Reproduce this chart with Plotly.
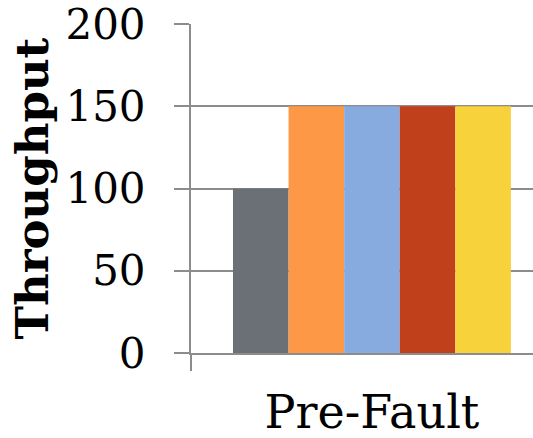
import plotly.graph_objects as go

categories = ["Pre-Fault"]
series_names = ["S1", "S2", "S3", "S4", "S5"]
series_values = [[100], [150], [150], [150], [150]]
series_colors = ["#6B6F76", "#FD9846", "#87AADF", "#C0401C", "#F7D23A"]
y_ticks = [0, 50, 100, 150, 200]

fig = go.Figure()
for name, vals, col in zip(series_names, series_values, series_colors):
    fig.add_trace(go.Bar(x=categories, y=vals, name=name, marker=dict(color=col, line=dict(width=0))))

grid = "#8C8C8C"
fig.update_layout(
    width=533, height=438,
    margin=dict(l=191, r=0, t=24, b=85),
    paper_bgcolor="white", plot_bgcolor="white",
    barmode="group", bargap=0.232, bargroupgap=0,
    showlegend=False,
    font=dict(family="DejaVu Serif", color="black"),
)
fig.update_yaxes(
    range=[0, 200], tickvals=y_ticks, ticktext=[str(v) for v in y_ticks],
    showgrid=True, gridcolor=grid, gridwidth=2,
    showline=True, linecolor=grid, linewidth=2,
    ticks="outside", ticklen=15, tickwidth=2, tickcolor=grid,
    tickfont=dict(size=42, family="DejaVu Serif"),
    ticklabelstandoff=20, ticklabeloverflow="allow",
    zeroline=False,
    title=dict(text="<b>Throughput</b>", font=dict(size=45, family="DejaVu Serif"), standoff=3),
)
fig.update_xaxes(
    range=[-0.5, 0.445],
    showline=True, linecolor=grid, linewidth=2,
    ticks="outside", tickson="boundaries", ticklen=16, tickwidth=2, tickcolor=grid,
    tickfont=dict(size=46, family="DejaVu Serif"),
    ticklabelstandoff=18,
    showgrid=False,
)
fig.write_html("out.html")
